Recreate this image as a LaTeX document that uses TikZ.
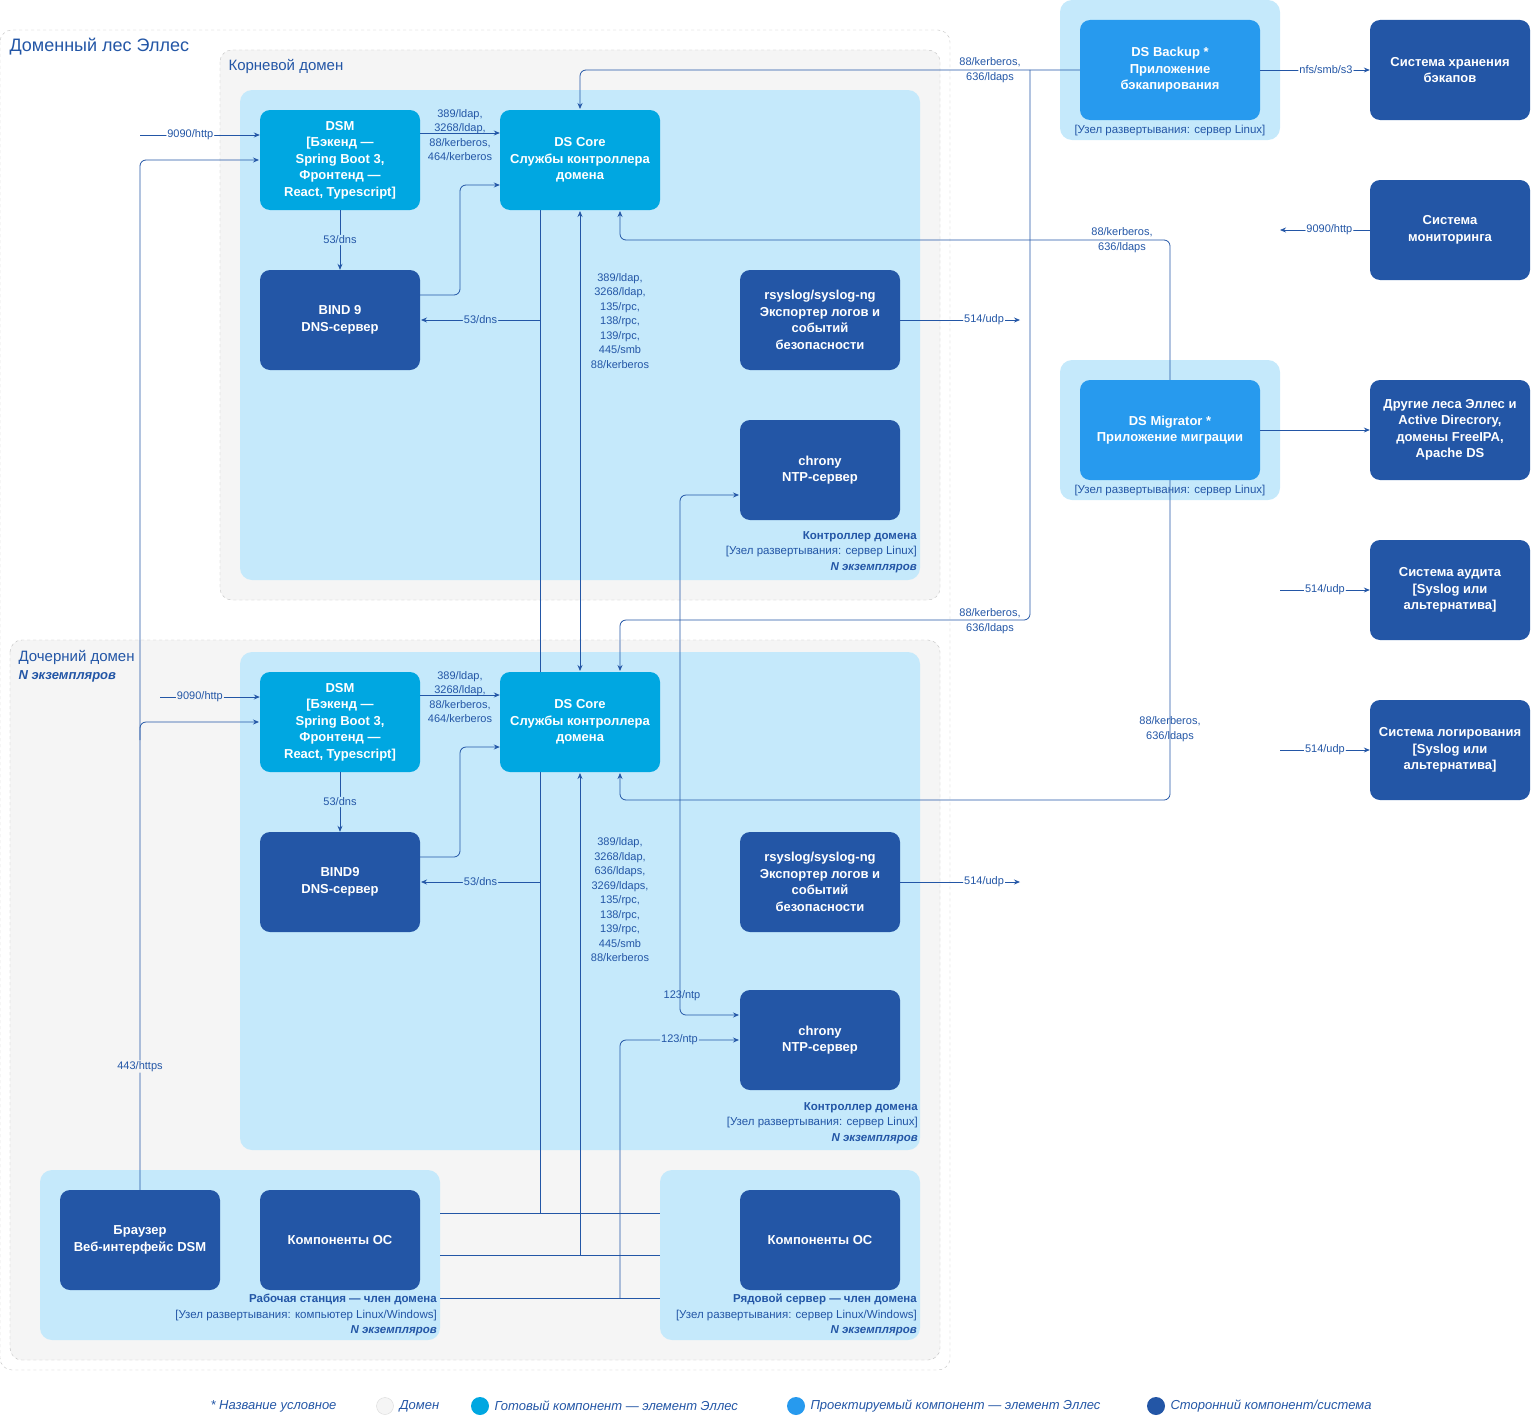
\documentclass[tikz,border=0pt]{standalone}
\usepackage{fontspec}
\setmainfont{Liberation Sans}
\usetikzlibrary{arrows.meta}
\definecolor{dk}{HTML}{2356A6}
\definecolor{cy}{HTML}{00A7E1}
\definecolor{bl}{HTML}{279AEE}
\definecolor{pn}{HTML}{C5E9FB}
\definecolor{gr}{HTML}{F5F5F5}
\definecolor{tx}{HTML}{2356A6}
\begin{document}
\begin{tikzpicture}[x=1pt,y=-1pt,
 box/.style={rounded corners=10pt,minimum width=160pt,minimum height=100pt,text=white,align=center,font=\fontsize{13}{16.5}\selectfont\bfseries,inner sep=2pt},
 ready/.style={box,fill=cy}, proj/.style={box,fill=bl,minimum width=180pt}, ext/.style={box,fill=dk},
 panel/.style={fill=pn,rounded corners=12pt,draw=none},
 dom/.style={fill=gr,draw=black!25,dashed,rounded corners=12pt},
 ln/.style={draw=dk,line width=0.8pt,rounded corners=6pt},
 ar/.style={ln,-{Stealth[length=6pt,width=5pt]}},
 lb/.style={text=tx,font=\fontsize{11}{14.5}\selectfont,align=center,inner sep=1pt},
 pl/.style={text=tx,font=\fontsize{11.5}{15.5}\selectfont,align=right,anchor=north east,inner sep=0pt}]
\useasboundingbox (0,0) rectangle (1531,1421);
% regions
\draw[draw=black!25,dashed,rounded corners=12pt,fill=white] (0,30) rectangle (950,1370);
\node[text=tx,font=\fontsize{18}{20}\selectfont,anchor=west] (forestl) at (6,47) {Доменный лес Эллес};
\draw[dom] (220,50) rectangle (940,600);
\node[text=tx,font=\fontsize{15}{18}\selectfont,anchor=west] (rootl) at (225,66) {Корневой домен};
\draw[panel] (240,90) rectangle (920,580);
\draw[dom] (10,640) rectangle (940,1360);
\node[text=tx,font=\fontsize{15}{18}\selectfont,anchor=west] (childl) at (15,657) {Дочерний домен};
\node[text=tx,font=\fontsize{13}{15}\selectfont\bfseries\itshape,anchor=west] (childn) at (15,676) {N экземпляров};
\draw[panel] (240,652) rectangle (920,1150);
\draw[panel] (40,1170) rectangle (440,1340);
\draw[panel] (660,1170) rectangle (920,1340);
\draw[panel] (1060,0) rectangle (1280,140);
\draw[panel] (1060,360) rectangle (1280,500);
% panel labels
\node[pl] (dc1l) at (917,531) {\textbf{Контроллер домена}\\{}[Узел развертывания: сервер Linux]\\\textbf{\textit{N экземпляров}}};
\node[pl] (dc2l) at (918,1102) {\textbf{Контроллер домена}\\{}[Узел развертывания: сервер Linux]\\\textbf{\textit{N экземпляров}}};
\node[pl] (wsl) at (437,1294) {\textbf{Рабочая станция — член домена}\\{}[Узел развертывания: компьютер Linux/Windows]\\\textbf{\textit{N экземпляров}}};
\node[pl] (srvl) at (917,1294) {\textbf{Рядовой сервер — член домена}\\{}[Узел развертывания: сервер Linux/Windows]\\\textbf{\textit{N экземпляров}}};
\node[text=tx,font=\fontsize{11.5}{14}\selectfont] (bkl) at (1170,131) {[Узел развертывания: сервер Linux]};
\node[text=tx,font=\fontsize{11.5}{14}\selectfont] (mgl) at (1170,491) {[Узел развертывания: сервер Linux]};
% coordinates
\coordinate (h1) at (140,135); \coordinate (h2) at (160,697);
\coordinate (mon) at (1280,230); \coordinate (aud) at (1280,590); \coordinate (lgs) at (1280,750);
\coordinate (r1) at (1020,320); \coordinate (r2) at (1020,882);
% lines (under nodes)
\draw[ln] (440,1213) -- (660,1213);
\draw[ln] (440,1255) -- (660,1255);
\draw[ln] (440,1298) -- (660,1298);
\draw[ln] (540,1213) -- (540,210);
\draw[ar] (540,320) -- node[lb,fill=pn]{53/dns} (421,320);
\draw[ar] (540,882) -- node[lb,fill=pn]{53/dns} (421,882);
\draw[ar,{Stealth[length=6pt,width=5pt]}-{Stealth[length=6pt,width=5pt]}] (580,211) -- (580,671);
\node[lb] (l1) at (620,321) {389/ldap,\\3268/ldap,\\135/rpc,\\138/rpc,\\139/rpc,\\445/smb\\88/kerberos};
\draw[ar] (580,1255) -- (580,773);
\node[lb] (l2) at (620,900) {389/ldap,\\3268/ldap,\\636/ldaps,\\3269/ldaps,\\135/rpc,\\138/rpc,\\139/rpc,\\445/smb\\88/kerberos};
\draw[ar] (620,1298) -- (620,1040) -- node[lb,fill=pn]{123/ntp} (739,1040);
\draw[ar,{Stealth[length=6pt,width=5pt]}-{Stealth[length=6pt,width=5pt]}] (739,495) -- (680,495) -- (680,1015) -- (739,1015);
\node[lb] (ntpl) at (682,996) {123/ntp};
% backup to cores
\draw[ar] (1080,70) -- (580,70) -- (580,109);
\node[lb] (bk1) at (990,70) {88/kerberos,\\636/ldaps};
\draw[ar] (1030,70) -- (1030,620) -- (620,620) -- (620,671);
\node[lb] (bk2) at (990,621) {88/kerberos,\\636/ldaps};
% migrator to cores
\draw[ar] (1170,380) -- (1170,240) -- (620,240) -- (620,211);
\node[lb] (mg1) at (1122,240) {88/kerberos,\\636/ldaps};
\draw[ar] (1170,480) -- (1170,800) -- (620,800) -- (620,773);
\node[lb] (mg2) at (1170,729) {88/kerberos,\\636/ldaps};
% browser
\draw[ar] (140,1190) -- node[lb,fill=gr,pos=0.12]{443/https} (140,160) -- (259,160);
\draw[ar] (140,740) -- (140,722) -- (259,722);
% nodes
\node[ready] (dsm1) at (340,160) {DSM\\{}[Бэкенд —\\Spring Boot 3,\\Фронтенд —\\React, Typescript]};
\node[ready] (core1) at (580,160) {DS Core\\Службы контроллера\\домена};
\node[ext] (bind1) at (340,320) {BIND 9\\DNS-сервер};
\node[ext] (rsys1) at (820,320) {rsyslog/syslog-ng\\Экспортер логов и\\событий\\безопасности};
\node[ext] (chr1) at (820,470) {chrony\\NTP-сервер};
\node[ready] (dsm2) at (340,722) {DSM\\{}[Бэкенд —\\Spring Boot 3,\\Фронтенд —\\React, Typescript]};
\node[ready] (core2) at (580,722) {DS Core\\Службы контроллера\\домена};
\node[ext] (bind2) at (340,882) {BIND9\\DNS-сервер};
\node[ext] (rsys2) at (820,882) {rsyslog/syslog-ng\\Экспортер логов и\\событий\\безопасности};
\node[ext] (chr2) at (820,1040) {chrony\\NTP-сервер};
\node[ext] (brw) at (140,1240) {Браузер\\Веб-интерфейс DSM};
\node[ext] (osw) at (340,1240) {Компоненты ОС};
\node[ext] (oss) at (820,1240) {Компоненты ОС};
\node[proj] (bkp) at (1170,70) {DS Backup *\\Приложение\\бэкапирования};
\node[proj] (mig) at (1170,430) {DS Migrator *\\Приложение миграции};
\node[ext] (sto) at (1450,70) {Система хранения\\бэкапов};
\node[ext] (mon2) at (1450,230) {Система\\мониторинга};
\node[ext] (oth) at (1450,430) {Другие леса Эллес и\\Active Direcrory,\\домены FreeIPA,\\Apache DS};
\node[ext] (aud2) at (1450,590) {Система аудита\\{}[Syslog или\\альтернатива]};
\node[ext] (log2) at (1450,750) {Система логирования\\{}[Syslog или\\альтернатива]};
% edges
\draw[ar] (h1) -- node[lb,fill=white,pos=0.42]{9090/http} (dsm1.west |- h1);
\draw[ar] (h2) -- node[lb,fill=gr,pos=0.4]{9090/http} (dsm2.west |- h2);
\draw[ar] (dsm1.east |- 0,133) -- (core1.west |- 0,133);
\node[lb] (dl1) at (460,135) {389/ldap,\\3268/ldap,\\88/kerberos,\\464/kerberos};
\draw[ar] (dsm2.east |- 0,695) -- (core2.west |- 0,695);
\node[lb] (dl2) at (460,697) {389/ldap,\\3268/ldap,\\88/kerberos,\\464/kerberos};
\draw[ar] (dsm1) -- node[lb,fill=pn]{53/dns} (bind1);
\draw[ar] (dsm2) -- node[lb,fill=pn]{53/dns} (bind2);
\draw[ar] (bind1.east |- 0,295) -- (460,295) -- (460,185) -- (core1.west |- 0,185);
\draw[ar] (bind2.east |- 0,857) -- (460,857) -- (460,747) -- (core2.west |- 0,747);
\draw[ar] (rsys1) -- node[lb,fill=white,pos=0.7]{514/udp} (r1);
\draw[ar] (rsys2) -- node[lb,fill=white,pos=0.7]{514/udp} (r2);
\draw[ar] (bkp) -- node[lb,fill=white,pos=0.6]{nfs/smb/s3} (sto);
\draw[ar] (mon2) -- node[lb,fill=white,pos=0.45]{9090/http} (mon);
\draw[ar] (mig) -- (oth);
\draw[ar] (aud) -- node[lb,fill=white,pos=0.5]{514/udp} (aud2);
\draw[ar] (lgs) -- node[lb,fill=white,pos=0.5]{514/udp} (log2);
% legend
\begin{scope}[font=\fontsize{13}{15}\selectfont\itshape]
\node[text=tx,anchor=west] (lg0) at (207,1406) {* Название условное};
\node[circle,fill=gr,draw=black!15,minimum size=17pt,inner sep=0] (c1) at (385,1406) {};
\node[text=tx,anchor=west] (lg1) at (396,1406) {Домен};
\node[circle,fill=cy,minimum size=18pt,inner sep=0] (c2) at (480,1406) {};
\node[text=tx,anchor=west] (lg2) at (491,1406) {Готовый компонент — элемент Эллес};
\node[circle,fill=bl,minimum size=18pt,inner sep=0] (c3) at (796,1406) {};
\node[text=tx,anchor=west] (lg3) at (807,1406) {Проектируемый компонент — элемент Эллес};
\node[circle,fill=dk,minimum size=18pt,inner sep=0] (c4) at (1156,1406) {};
\node[text=tx,anchor=west] (lg4) at (1167,1406) {Сторонний компонент/система};
\end{scope}
\end{tikzpicture}
\end{document}
